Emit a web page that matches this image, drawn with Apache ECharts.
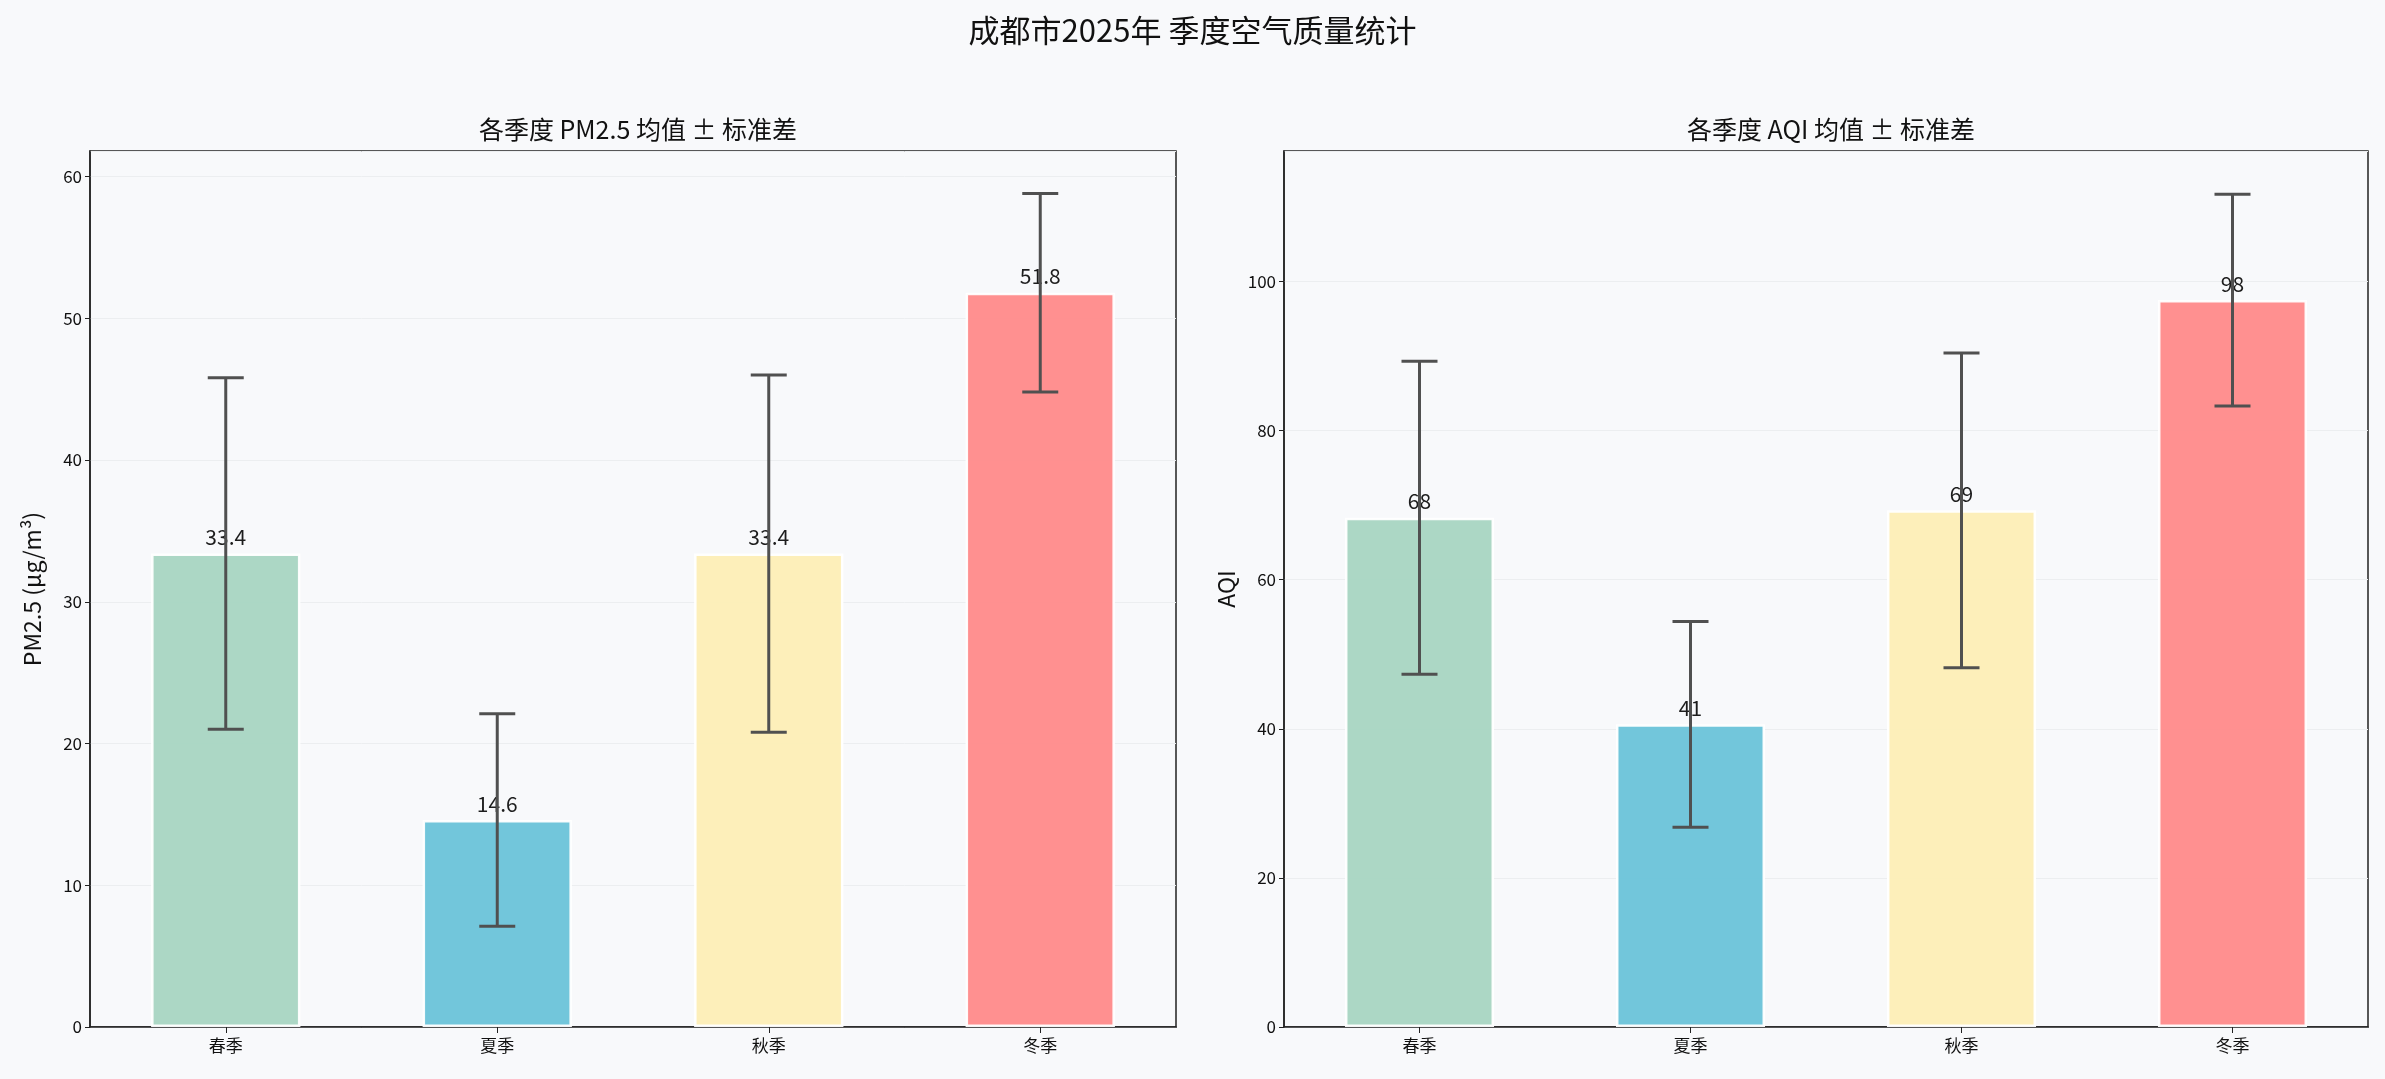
<!DOCTYPE html>
<html>
<head>
<meta charset="utf-8">
<script src="https://cdn.jsdelivr.net/npm/echarts@6/dist/echarts.min.js"></script>
<style>
  html, body { margin: 0; padding: 0; background: #f8f9fb; }
  #main { width: 2385px; height: 1079px; }
</style>
</head>
<body>
<div id="main"></div>
<script>
var seasons = ['春季', '夏季', '秋季', '冬季'];
var colors = ['#a8d5c2', '#6ac3d9', '#fdeeb6', '#ff8a8a'];
var pmMean = [33.4, 14.6, 33.4, 51.8];
var pmStd = [12.4, 7.5, 12.6, 7.0];
var aqiMean = [68.3, 40.6, 69.3, 97.5];
var aqiStd = [21.0, 13.8, 21.1, 14.2];

var font = '"Noto Sans CJK SC", "Noto Sans", sans-serif';

function barData(means) {
    return means.map(function (v, i) {
        return { value: v, itemStyle: { color: colors[i] } };
    });
}

function errData(means, stds) {
    return means.map(function (v, i) {
        return [i, v - stds[i], v + stds[i]];
    });
}

function renderErr(params, api) {
    var lo = api.coord([api.value(0), api.value(1)]);
    var hi = api.coord([api.value(0), api.value(2)]);
    var w = 18;
    var st = { stroke: '#505050', lineWidth: 3 };
    return {
        type: 'group',
        children: [
            { type: 'line', shape: { x1: hi[0], y1: hi[1], x2: lo[0], y2: lo[1] }, style: st },
            { type: 'line', shape: { x1: hi[0] - w, y1: hi[1], x2: hi[0] + w, y2: hi[1] }, style: st },
            { type: 'line', shape: { x1: lo[0] - w, y1: lo[1], x2: lo[0] + w, y2: lo[1] }, style: st }
        ]
    };
}

function yAxis(idx, max, interval, name) {
    return {
        gridIndex: idx, type: 'value', min: 0, max: max, interval: interval,
        name: name, nameLocation: 'middle', nameGap: 46,
        nameTextStyle: { fontFamily: font, fontSize: 23, color: '#111' },
        axisLine: { show: true, lineStyle: { color: '#222', width: 1.5 } },
        axisTick: { show: true, length: 5, lineStyle: { color: '#222' } },
        axisLabel: { fontFamily: font, fontSize: 17, color: '#111',
            showMaxLabel: false },
        splitLine: { show: true, lineStyle: { color: '#eceef0', width: 1 } }
    };
}

function xAxis(idx) {
    return {
        gridIndex: idx, type: 'category', data: seasons,
        axisLine: { show: true, lineStyle: { color: '#222', width: 1.5 } },
        axisTick: { show: true, alignWithLabel: true, length: 6, lineStyle: { color: '#222' } },
        axisLabel: { fontFamily: font, fontSize: 17, color: '#111', margin: 10 },
        splitLine: { show: false }
    };
}

function bars(idx, means, fmt) {
    return {
        type: 'bar', xAxisIndex: idx, yAxisIndex: idx, data: barData(means),
        barWidth: '55%',
        itemStyle: { borderColor: '#ffffff', borderWidth: 2.5, opacity: 0.95 },
        label: { show: true, position: 'top', distance: 6, fontFamily: font, fontSize: 21,
            color: '#111', formatter: fmt },
        z: 2
    };
}

var chart = echarts.init(document.getElementById('main'));
chart.setOption({
    backgroundColor: '#f8f9fb',
    animation: false,
    title: [
        { text: '成都市2025年 季度空气质量统计', left: 'center', top: 10,
          textStyle: { fontFamily: font, fontSize: 31, fontWeight: 'normal', color: '#111' } },
        { text: '各季度 PM2.5 均值 ± 标准差', left: 633, top: 112, textAlign: 'center',
          textStyle: { fontFamily: font, fontSize: 25, fontWeight: 'normal', color: '#111' } },
        { text: '各季度 AQI 均值 ± 标准差', left: 1826, top: 112, textAlign: 'center',
          textStyle: { fontFamily: font, fontSize: 25, fontWeight: 'normal', color: '#111' } }
    ],
    grid: [
        { left: 90, right: 1209, top: 151, bottom: 52, show: true, borderColor: '#222', borderWidth: 1.5, backgroundColor: 'transparent' },
        { left: 1284, right: 17, top: 151, bottom: 52, show: true, borderColor: '#222', borderWidth: 1.5, backgroundColor: 'transparent' }
    ],
    xAxis: [xAxis(0), xAxis(1)],
    yAxis: [yAxis(0, 61.8, 10, 'PM2.5 (μg/m³)'), yAxis(1, 117.5, 20, 'AQI')],
    series: [
        bars(0, pmMean, function (p) { return p.value.toFixed(1); }),
        bars(1, aqiMean, function (p) { return Math.round(p.value); }),
        { type: 'custom', xAxisIndex: 0, yAxisIndex: 0, renderItem: renderErr,
          data: errData(pmMean, pmStd), z: 5 },
        { type: 'custom', xAxisIndex: 1, yAxisIndex: 1, renderItem: renderErr,
          data: errData(aqiMean, aqiStd), z: 5 }
    ]
});
</script>
</body>
</html>
